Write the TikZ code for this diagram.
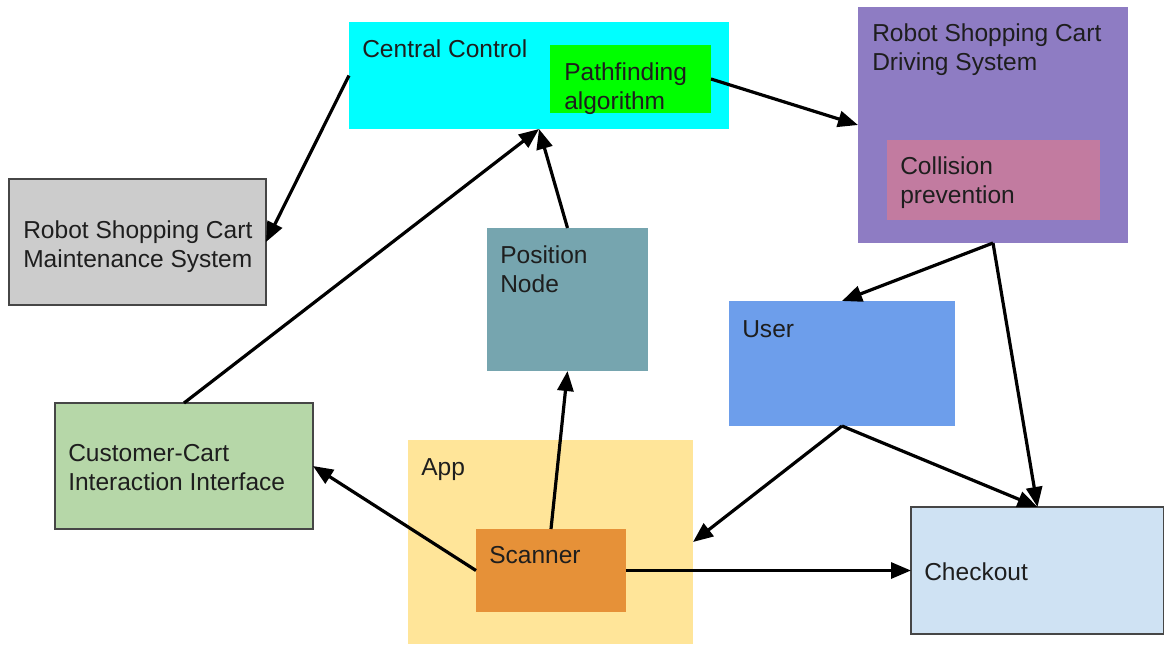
\documentclass[tikz,border=0pt]{standalone}
\usepackage{fontspec}
\setmainfont{Liberation Sans}
\usetikzlibrary{arrows.meta}

\definecolor{ccCyan}{RGB}{0,255,255}
\definecolor{pathGreen}{RGB}{0,255,0}
\definecolor{drivePurple}{RGB}{142,124,195}
\definecolor{collPink}{RGB}{194,123,160}
\definecolor{maintGray}{RGB}{204,204,204}
\definecolor{posTeal}{RGB}{118,165,175}
\definecolor{userBlue}{RGB}{109,158,235}
\definecolor{custGreen}{RGB}{182,215,168}
\definecolor{appYellow}{RGB}{255,229,153}
\definecolor{scanOrange}{RGB}{230,145,56}
\definecolor{checkBlue}{RGB}{207,226,243}
\definecolor{edgeGray}{RGB}{70,70,70}
\definecolor{textGray}{RGB}{30,30,30}

\begin{document}
\begin{tikzpicture}[x=0.75pt,y=0.75pt,yscale=-1,xscale=1,
    box/.style 2 args={rectangle, anchor=north west, inner sep=0, outer sep=0,
        minimum width=#1*0.75pt, minimum height=#2*0.75pt, draw=none},
    framed/.style={draw=edgeGray, line width=0.8pt},
    lbl/.style={anchor=base west, inner sep=0, align=left, text=textGray,
        font=\fontsize{18.4}{21.4}\selectfont},
    conn/.style={line width=2.4pt, -{Triangle[length=15pt,width=12pt]}}]
    \useasboundingbox (0,0) rectangle (1164,644);

    % Text Node (two-line labels sit on their last baseline)
    \node[box={380}{107}, fill=ccCyan] (central) at (349,22) {};
    \node[lbl] (central-txt) at (362,57) {Central Control};
    % Text Node
    \node[box={161}{68}, fill=pathGreen] (path) at (550,45) {};
    \node[lbl] (path-txt) at (564,109) {Pathfinding\\algorithm};
    % Text Node
    \node[box={270}{236}, fill=drivePurple] (drive) at (858,7) {};
    \node[lbl] (drive-txt) at (872,70) {Robot Shopping Cart\\Driving System};
    % Text Node
    \node[box={213}{80}, fill=collPink] (coll) at (887,140) {};
    \node[lbl] (coll-txt) at (900,203) {Collision\\prevention};
    % Text Node
    \node[box={257}{126}, fill=maintGray, framed] (maint) at (9,179) {};
    \node[lbl] (maint-txt) at (23,267) {Robot Shopping Cart\\Maintenance System};
    % Text Node
    \node[box={161}{143}, fill=posTeal] (pos) at (487,228) {};
    \node[lbl] (pos-txt) at (500,292) {Position\\Node};
    % Text Node
    \node[box={226}{125}, fill=userBlue] (user) at (729,301) {};
    \node[lbl] (user-txt) at (742,337) {User};
    % Text Node
    \node[box={258}{126}, fill=custGreen, framed] (cust) at (55,403) {};
    \node[lbl] (cust-txt) at (68,490) {Customer-Cart\\Interaction Interface};
    % Text Node
    \node[box={285}{204}, fill=appYellow] (app) at (408,440) {};
    \node[lbl] (app-txt) at (421,475) {App};
    % Text Node
    \node[box={150}{83}, fill=scanOrange] (scan) at (476,529) {};
    \node[lbl] (scan-txt) at (489,563) {Scanner};
    % Text Node
    \node[box={253}{127}, fill=checkBlue, framed] (check) at (911,507) {};
    \node[lbl] (check-txt) at (924,580) {Checkout};

    % Connection
    \draw[conn] (central.west) -- (maint.east);
    % Connection
    \draw[conn] (path.east) -- (drive.west);
    % Connection
    \draw[conn] (cust.north) -- (central.south);
    % Connection
    \draw[conn] (pos.north) -- (central.south);
    % Connection
    \draw[conn] (scan.north) -- (pos.south);
    % Connection
    \draw[conn] (scan.west) -- (cust.east);
    % Connection
    \draw[conn] (scan.east) -- (check.west);
    % Connection
    \draw[conn] (drive.south) -- (user.north);
    % Connection
    \draw[conn] (drive.south) -- (check.north);
    % Connection
    \draw[conn] (user.south) -- (app.east);
    % Connection
    \draw[conn] (user.south) -- (check.north);

\end{tikzpicture}
\end{document}
